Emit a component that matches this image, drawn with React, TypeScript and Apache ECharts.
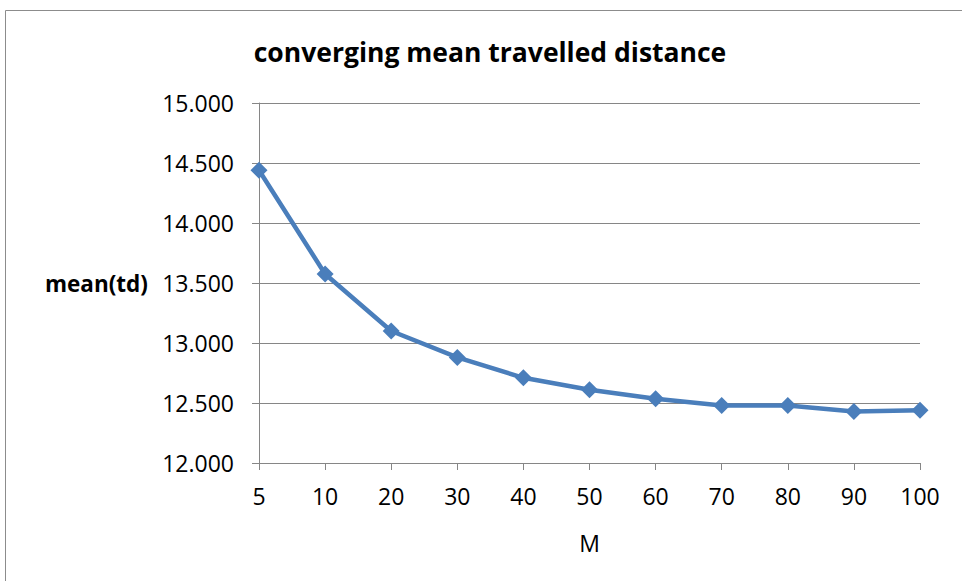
import React, { useEffect, useRef } from "react";
import * as echarts from "echarts";

const categories = ["5", "10", "20", "30", "40", "50", "60", "70", "80", "90", "100"];
const meanTd = [14.44, 13.575, 13.1, 12.88, 12.71, 12.61, 12.535, 12.48, 12.48, 12.43, 12.44];
const titleText = "converging mean travelled distance";
const xName = "M";
const yName = "mean(td)";

export default function App() {
  const ref = useRef<HTMLDivElement>(null);
  useEffect(() => {
    if (!ref.current) return;
    const chart = echarts.init(ref.current, undefined, { renderer: "svg" });
    const font = "'Open Sans', sans-serif";
    chart.setOption({
      animation: false,
      backgroundColor: "#ffffff",
      title: {
        text: titleText,
        left: 485,
        top: 33,
        textAlign: "center",
        textStyle: { fontFamily: font, fontSize: 26.5, fontWeight: "bold", color: "#000" },
      },
      graphic: [
        {
          type: "rect",
          shape: { x: 5.5, y: 10.5, width: 1000, height: 1000 },
          style: { fill: "none", stroke: "#8c8c8c", lineWidth: 1 },
          silent: true,
        },
      ],
      grid: { left: 259, right: 42, top: 103, bottom: 118, containLabel: false },
      xAxis: {
        type: "category",
        data: categories,
        boundaryGap: false,
        name: xName,
        nameLocation: "middle",
        nameGap: 68,
        nameTextStyle: { fontFamily: font, fontSize: 23, color: "#000" },
        axisLine: { show: true, lineStyle: { color: "#868686", width: 1 } },
        axisTick: { show: true, length: 7, lineStyle: { color: "#868686" } },
        axisLabel: { fontFamily: font, fontSize: 23, color: "#000", margin: 21 },
        splitLine: { show: false },
      },
      yAxis: {
        type: "value",
        min: 12,
        max: 15,
        interval: 0.5,
        name: yName,
        nameLocation: "middle",
        nameRotate: 0,
        nameGap: 111,
        nameTextStyle: { fontFamily: font, fontSize: 22.5, fontWeight: "bold", color: "#000", align: "right" },
        axisLine: { show: true, lineStyle: { color: "#868686", width: 1 } },
        axisTick: { show: true, length: 7, lineStyle: { color: "#868686" } },
        axisLabel: {
          fontFamily: font,
          fontSize: 23,
          color: "#000",
          margin: 25,
          formatter: (v: number) => v.toFixed(3),
        },
        splitLine: { show: true, lineStyle: { color: "#868686", width: 1 } },
      },
      series: [
        {
          type: "line",
          data: meanTd,
          symbol: "diamond",
          symbolSize: 17,
          lineStyle: { color: "#4a7ebb", width: 4.5 },
          itemStyle: { color: "#4a7ebb" },
        },
      ],
    });
    return () => chart.dispose();
  }, []);
  return (
    <div
      ref={ref}
      style={{ position: "fixed", left: 0, top: 0, width: 962, height: 581, background: "#fff" }}
    />
  );
}
